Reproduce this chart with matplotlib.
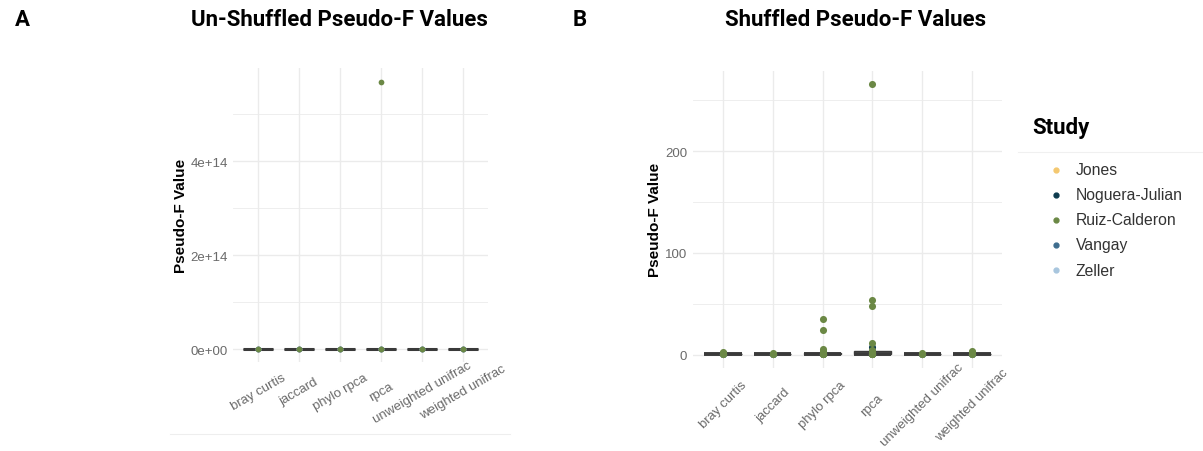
import matplotlib
matplotlib.use("Agg")
import matplotlib.pyplot as plt
from matplotlib.lines import Line2D
from matplotlib.transforms import Bbox

metrics = ["bray curtis", "jaccard", "phylo rpca", "rpca",
           "unweighted unifrac", "weighted unifrac"]
studies = ["Jones", "Noguera-Julian", "Ruiz-Calderon", "Vangay", "Zeller"]
study_colors = ["#f4c870", "#0e3b4e", "#6b8845", "#3e6d8e", "#a8c6de"]
draw_order = ["Jones", "Noguera-Julian", "Vangay", "Zeller", "Ruiz-Calderon"]

# un-shuffled pseudo-F per study, values for each metric
unshuf_jones = [[2.1], [1.6], [3.4], [2.9], [1.8], [2.3]]
unshuf_noguera = [[3.7], [2.5], [4.1], [6.2], [2.2], [3.0]]
unshuf_ruiz = [[1.9], [1.4], [2.6], [3.1, 5.69e14], [1.5], [2.0]]
unshuf_vangay = [[4.4], [3.1], [5.3], [7.8], [2.7], [4.9]]
unshuf_zeller = [[1.5], [1.2], [2.2], [3.3], [1.3], [1.7]]

# shuffled pseudo-F, a few permutations per study for each metric
shuf_jones = [[0.9, 1.0, 1.1], [0.9, 1.0, 1.1], [0.9, 1.0, 1.2],
              [0.9, 1.0, 1.2], [0.9, 1.0, 1.1], [0.9, 1.0, 1.1]]
shuf_noguera = [[1.0, 1.1, 1.2], [0.9, 1.0, 1.1], [0.9, 1.1, 1.3],
                [1.0, 1.1, 7.3], [1.0, 1.0, 1.1], [0.9, 1.1, 1.2]]
shuf_ruiz = [[0.6, 1.0, 1.3, 2.6], [0.8, 1.0, 1.4],
             [0.5, 0.9, 1.0, 1.1, 1.3, 2.4, 4.0, 6.0, 24.6, 35.1],
             [0.6, 0.9, 1.0, 1.1, 1.2, 1.6, 3.0, 5.0, 11.5, 48.0, 54.0, 266.0],
             [0.8, 1.0, 1.6], [0.5, 1.0, 1.3, 2.3, 3.6]]
shuf_vangay = [[1.0, 1.0, 1.1], [1.0, 1.0, 1.1], [0.9, 1.0, 1.1],
               [0.9, 1.0, 1.1], [1.0, 1.0, 1.1], [1.0, 1.0, 1.1]]
shuf_zeller = [[0.9, 1.0, 1.1], [0.9, 1.0, 1.1], [0.9, 1.0, 1.2],
               [0.9, 1.0, 1.2], [0.9, 1.0, 1.1], [0.9, 1.0, 1.1]]

unshuffled = dict(zip(studies, [unshuf_jones, unshuf_noguera, unshuf_ruiz,
                                unshuf_vangay, unshuf_zeller]))
shuffled = dict(zip(studies, [shuf_jones, shuf_noguera, shuf_ruiz,
                              shuf_vangay, shuf_zeller]))
colors = dict(zip(studies, study_colors))

TICK = dict(family="Liberation Sans", size=9.5, color="#6a6a6a")
GRID = "#ebebeb"
BOX = "#3a3a3a"

fig = plt.figure(figsize=(12.03, 4.52), dpi=100)
axA = fig.add_axes([0.194, 0.196, 0.2113, 0.6505])
axB = fig.add_axes([0.576, 0.1832, 0.2569, 0.6584])


def style(ax):
    for s in ax.spines.values():
        s.set_visible(False)
    ax.set_axisbelow(True)
    ax.grid(True, which="major", color=GRID, lw=1.0)
    ax.grid(True, which="minor", axis="y", color=GRID, lw=0.6)
    ax.tick_params(length=0, which="both")
    ax.set_xlim(-0.6, len(metrics) - 0.4)


def panel(ax, data, dot, line, rot, pad, top, major, minor, ticklabels, labx):
    style(ax)
    per_metric = [sum((data[s][i] for s in studies), []) for i in range(len(metrics))]
    ax.boxplot(per_metric, positions=range(len(metrics)), widths=0.75,
               showfliers=False, showcaps=False, patch_artist=True,
               boxprops=dict(facecolor="white", edgecolor=BOX, lw=1.0),
               medianprops=dict(color=BOX, lw=line),
               whiskerprops=dict(color=BOX, lw=1.0), zorder=2)
    for s in draw_order:
        for i, vals in enumerate(data[s]):
            ax.scatter([i] * len(vals), vals, s=dot, color=colors[s], zorder=3,
                       linewidths=0)
    ax.set_ylim(-0.05 * top, 1.05 * top)
    ax.set_yticks(major)
    ax.set_yticks(minor, minor=True)
    ax.set_yticklabels(ticklabels, **TICK)
    ax.set_xticks(range(len(metrics)))
    ax.set_xticklabels(metrics, rotation=rot, **TICK)
    for lab in ax.get_xticklabels():
        lab.set_rotation_mode("anchor")
        lab.set_ha("center")
        lab.set_va("center")
    ax.tick_params(axis="x", pad=pad)
    ax.tick_params(axis="y", pad=4)
    ax.set_ylabel("Pseudo-F Value", family="Liberation Sans", weight="bold", size=11)
    ax.yaxis.set_label_coords(labx, 0.5)


panel(axA, unshuffled, 17, 2.2, 30, 21, max(max(v) for v in unshuf_ruiz),
      [0, 2e14, 4e14], [1e14, 3e14, 5e14], ["0e+00", "2e+14", "4e+14"], -0.179)
panel(axB, shuffled, 26, 2.8, 45, 26, max(max(v) for v in shuf_ruiz),
      [0, 100, 200], [50, 150, 250], ["0", "100", "200"], -0.1)

# left panel tick labels are cut at the edge of its image
clip = Bbox.from_extents(0, 0, 510, 452)
for lab in axA.get_xticklabels():
    lab.set_clip_on(True)
    lab.set_clip_box(clip)

# titles and panel letters
TITLE = dict(family="Roboto", weight="bold", size=16, va="center")
fig.text(0.0183, 0.955, "A", ha="center", **TITLE)
fig.text(0.282, 0.955, "Un-Shuffled Pseudo-F Values", ha="center", **TITLE)
fig.text(0.482, 0.955, "B", ha="center", **TITLE)
fig.text(0.711, 0.955, "Shuffled Pseudo-F Values", ha="center", **TITLE)

# faint panel edges
fig.add_artist(Line2D([170 / 1203, 510 / 1203], [1 - 435 / 452] * 2,
                      color="#eeeeee", lw=0.8))
fig.add_artist(Line2D([1018 / 1203, 1.0], [1 - 153 / 452] * 2,
                      color="#f0f0f0", lw=0.8))

# legend, laid out by hand
fig.text(1032 / 1203, 1 - 128 / 452, "Study", family="Roboto", weight="bold",
         size=16, va="center", ha="left")
for i, s in enumerate(studies):
    y = 1 - (171 + 25 * i) / 452
    fig.add_artist(Line2D([1056 / 1203], [y], ls="", marker="o", ms=3.5,
                          color=colors[s]))
    fig.text(1076 / 1203, y, s, family="Liberation Sans", size=11.3,
             color="#333333", va="center", ha="left")

fig.savefig("out.png", dpi=100)
